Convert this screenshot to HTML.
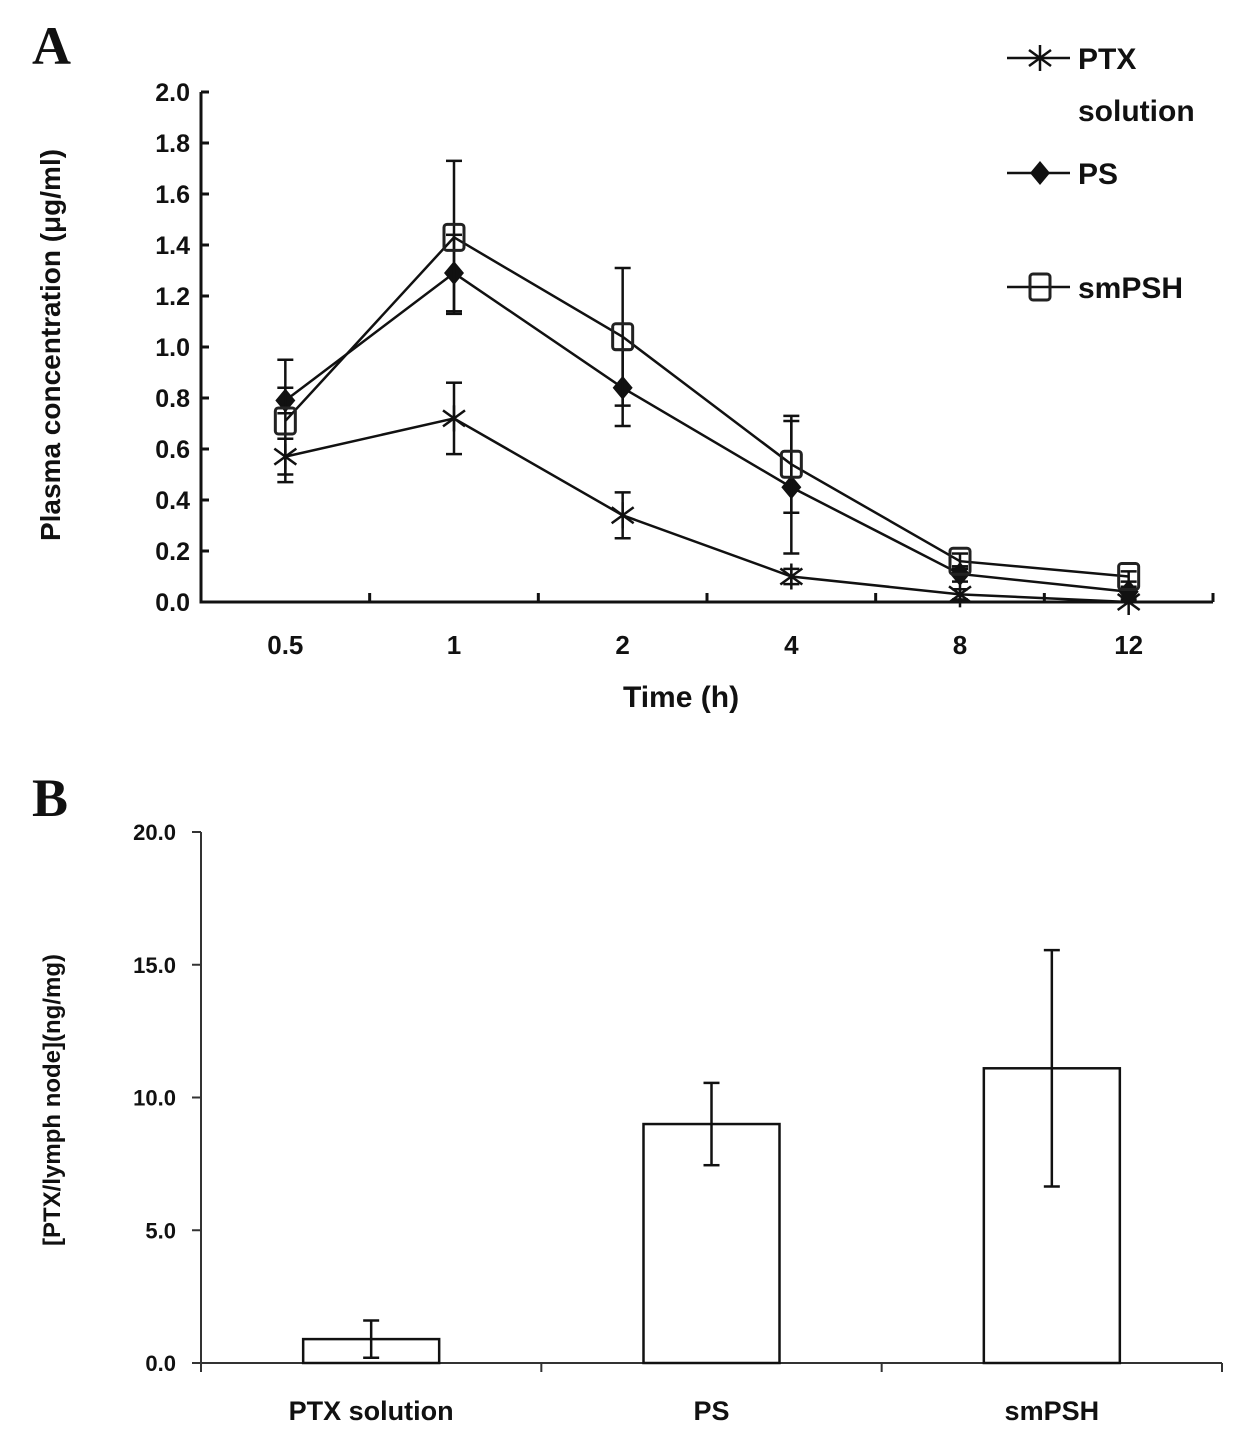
<!DOCTYPE html>
<html><head><meta charset="utf-8"><style>
body{margin:0;background:#fff;}
svg text{font-family:"Liberation Sans",sans-serif;font-weight:bold;fill:#111;}
</style></head><body>
<svg id="s" width="1256" height="1440" viewBox="0 0 1256 1440" xmlns="http://www.w3.org/2000/svg">
<text x="32" y="64" style="font-family:'Liberation Serif',serif;font-size:54px">A</text>
<text x="32" y="816" style="font-family:'Liberation Serif',serif;font-size:54px">B</text>
<g id="A"></g>
<g id="B"></g>
</svg>
<script>
const timeLabels=["0.5","1","2","4","8","12"];
const yTicksA=["0.0","0.2","0.4","0.6","0.8","1.0","1.2","1.4","1.6","1.8","2.0"];
const ptxVals=[0.57,0.72,0.34,0.10,0.03,0.00];
const ptxErr=[0.07,0.14,0.09,0.03,0.02,0.01];
const psVals=[0.79,1.29,0.84,0.45,0.11,0.04];
const psErr=[0.05,0.15,0.15,0.26,0.03,0.02];
const smVals=[0.71,1.43,1.04,0.54,0.16,0.10];
const smErr=[0.24,0.30,0.27,0.19,0.03,0.02];
const barCats=["PTX solution","PS","smPSH"];
const barVals=[0.9,9.0,11.1];
const barErr=[0.7,1.55,4.45];
const yTicksB=["0.0","5.0","10.0","15.0","20.0"];

const NS="http://www.w3.org/2000/svg";
function mk(p,t,a,txt){const e=document.createElementNS(NS,t);for(const k in a)e.setAttribute(k,a[k]);if(txt!==undefined)e.textContent=txt;p.appendChild(e);return e;}
const A=document.getElementById('A'),B=document.getElementById('B');
// Panel A scales
const ax0=201,ax1=1213,ay0=602,ayTop=92;
const bw=(ax1-ax0)/timeLabels.length;
const xA=i=>ax0+bw*(i+0.5);
const yA=v=>ay0-(v/2.0)*(ay0-ayTop);
let e=mk(A,'path',{d:`M${ax0},${ayTop} V${ay0} H${ax1}`,stroke:'#111','stroke-width':3,fill:'none'});

yTicksA.forEach((t,i)=>{const v=parseFloat(t);const y=yA(v);
 mk(A,'line',{x1:ax0,x2:ax0+8,y1:y,y2:y,stroke:'#111','stroke-width':3});
 const tx=mk(A,'text',{x:190,y:y+9,'text-anchor':'end','font-size':25},t);
 });
for(let i=1;i<=timeLabels.length;i++){const x=ax0+bw*i;mk(A,'line',{x1:x,x2:x,y1:ay0,y2:ay0-9,stroke:'#111','stroke-width':3});}
timeLabels.forEach((t,i)=>{const tx=mk(A,'text',{x:xA(i),y:654,'text-anchor':'middle','font-size':26},t);
 });
e=mk(A,'text',{x:681,y:707,'text-anchor':'middle','font-size':30},'Time (h)');

e=mk(A,'text',{x:0,y:0,transform:'translate(60,345) rotate(-90)','text-anchor':'middle','font-size':28},'Plasma concentration (μg/ml)');

function star(g,x,y){const r=11;for(let k=0;k<4;k++){const a=Math.PI*k/4+Math.PI/8*0;const dx=r*Math.cos(a+Math.PI/2*0),dy=r*Math.sin(a);}
 [[0,-1],[0.87,0.5],[-0.87,0.5],[0,1],[0.87,-0.5],[-0.87,-0.5]];
 mk(g,'line',{x1:x,y1:y-13,x2:x,y2:y+13,stroke:'#111','stroke-width':2.5});
 mk(g,'line',{x1:x-11,y1:y-8,x2:x+11,y2:y+8,stroke:'#111','stroke-width':2.5});
 mk(g,'line',{x1:x-11,y1:y+8,x2:x+11,y2:y-8,stroke:'#111','stroke-width':2.5});}
function diamond(g,x,y){mk(g,'path',{d:`M${x},${y-12}L${x+10},${y}L${x},${y+12}L${x-10},${y}Z`,fill:'#111'});}
function square(g,x,y){mk(g,'rect',{x:x-10,y:y-13,width:20,height:26,rx:3,fill:'none',stroke:'#222','stroke-width':3});}
function series(name,vals,err,marker){const g=mk(A,'g',{});
 vals.forEach((v,i)=>{const x=xA(i);mk(g,'line',{x1:x,x2:x,y1:yA(v+err[i]),y2:yA(Math.max(0,v-err[i])),stroke:'#111','stroke-width':2.5});
  [v+err[i],Math.max(0,v-err[i])].forEach(w=>mk(g,'line',{x1:x-8,x2:x+8,y1:yA(w),y2:yA(w),stroke:'#111','stroke-width':2.5}));});
 mk(g,'polyline',{points:vals.map((v,i)=>xA(i)+','+yA(v)).join(' '),fill:'none',stroke:'#111','stroke-width':2.5});
 vals.forEach((v,i)=>marker(g,xA(i),yA(v)));}
series('series-ptx',ptxVals,ptxErr,star);
series('series-ps',psVals,psErr,diamond);
series('series-smpsh',smVals,smErr,square);
// legend
[[58,'PTX',star],[173,'PS',diamond],[287,'smPSH',square]].forEach(([y,l,m])=>{const g=mk(A,'g',{});
 
 mk(g,'line',{x1:1007,x2:1070,y1:y,y2:y,stroke:'#111','stroke-width':2.5});m(g,1040,y);
 mk(g,'text',{x:1078,y:y+11,'font-size':30},l);});
e=mk(A,'text',{x:1078,y:121,'font-size':30},'solution');

// Panel B
const bx0=201,bx1=1222,by0=1363,byTop=832;
const cw=(bx1-bx0)/barCats.length;
const xB=i=>bx0+cw*(i+0.5);
const yB=v=>by0-(v/20)*(by0-byTop);
e=mk(B,'path',{d:`M${bx0},${byTop} V${by0} H${bx1}`,stroke:'#333','stroke-width':2,fill:'none'});

yTicksB.forEach(t=>{const y=yB(parseFloat(t));mk(B,'line',{x1:bx0-9,x2:bx0,y1:y,y2:y,stroke:'#333','stroke-width':2});
 const tx=mk(B,'text',{x:176,y:y+8,'text-anchor':'end','font-size':22},t);
 });
for(let i=0;i<=barCats.length;i++){const x=bx0+cw*i;mk(B,'line',{x1:x,x2:x,y1:by0,y2:by0+9,stroke:'#333','stroke-width':2});}
barCats.forEach((c,i)=>{const x=xB(i),v=barVals[i];
 const r=mk(B,'rect',{x:x-68,y:yB(v),width:136,height:by0-yB(v),fill:'#fff',stroke:'#111','stroke-width':2.5});
 
 mk(B,'line',{x1:x,x2:x,y1:yB(v+barErr[i]),y2:yB(v-barErr[i]),stroke:'#111','stroke-width':2.5});
 [v+barErr[i],v-barErr[i]].forEach(w=>mk(B,'line',{x1:x-8,x2:x+8,y1:yB(w),y2:yB(w),stroke:'#111','stroke-width':2.5}));
 const tx=mk(B,'text',{x:x,y:1420,'text-anchor':'middle','font-size':27},c);
 });
e=mk(B,'text',{x:0,y:0,transform:'translate(60,1100) rotate(-90)','text-anchor':'middle','font-size':24},'[PTX/lymph node](ng/mg)');

</script>
</body></html>
